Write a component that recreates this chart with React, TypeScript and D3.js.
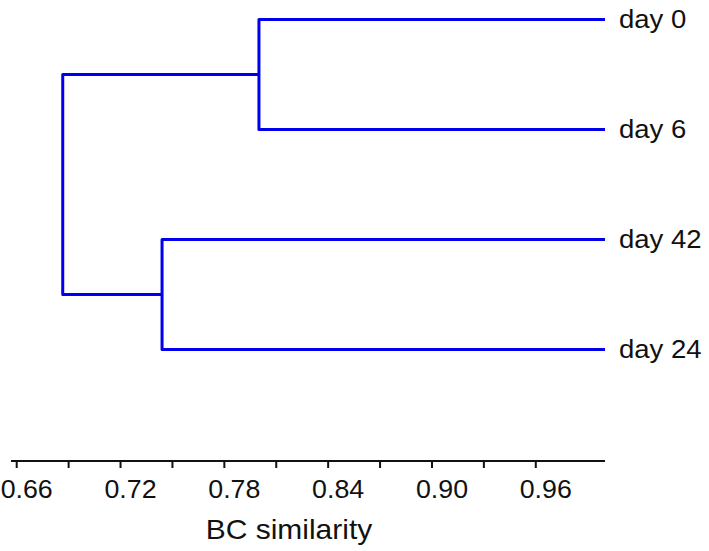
import React, { useEffect, useRef } from "react";
import * as d3 from "d3";

// leaves from top to bottom
const leafLabels = ["day 0", "day 6", "day 42", "day 24"];
// node ids: leaves 0..3, merges 4..6
const mergePairs = [[0, 1], [2, 3], [4, 5]];
const mergeSimilarity = [0.8, 0.744, 0.6866];
const leafSimilarity = 1.0;

const minorTicks = [0.66, 0.69, 0.72, 0.75, 0.78, 0.81, 0.84, 0.87, 0.9, 0.93, 0.96];
const majorTicks = [0.66, 0.72, 0.78, 0.84, 0.9, 0.96];

const App = () => {
  const svgRef = useRef<SVGSVGElement>(null);

  useEffect(() => {
    const width = 709;
    const height = 551;
    const font = "'Liberation Sans', Arial, sans-serif";
    const axisY = 461;

    const svg = d3.select(svgRef.current);
    svg.selectAll("*").remove();
    svg.attr("width", width).attr("height", height);

    const x = d3.scaleLinear().domain([0.6567, 1.0]).range([11, 605]);
    const y = d3.scalePoint().domain(leafLabels).range([19.5, 349.5]);

    // node positions
    const nodes = leafLabels.map((d) => ({ x: x(leafSimilarity), y: y(d) as number }));
    mergePairs.forEach(([a, b], i) => {
      nodes.push({ x: x(mergeSimilarity[i]), y: (nodes[a].y + nodes[b].y) / 2 });
    });

    // dendrogram links
    const g = svg.append("g");
    mergePairs.forEach(([a, b], i) => {
      const m = nodes[leafLabels.length + i];
      const p = d3.path();
      p.moveTo(nodes[a].x, nodes[a].y);
      p.lineTo(m.x, nodes[a].y);
      p.lineTo(m.x, nodes[b].y);
      p.lineTo(nodes[b].x, nodes[b].y);
      g.append("path")
        .attr("d", p.toString())
        .attr("fill", "none")
        .attr("stroke", "#0000ee")
        .attr("stroke-width", 3)
        .attr("stroke-linejoin", "round");
    });

    // leaf labels (slightly stretched wide, like the source image)
    svg.append("g")
      .selectAll("text")
      .data(leafLabels)
      .join("text")
      .attr("transform", (d) => `translate(${x(leafSimilarity) + 14},${(y(d) as number) + 8}) scale(1.1,1)`)
      .attr("font-family", font)
      .attr("font-size", 25)
      .attr("fill", "#111")
      .text((d) => d);

    // axis
    const axis = svg.append("g");
    axis.append("line")
      .attr("x1", 11)
      .attr("x2", 605)
      .attr("y1", axisY)
      .attr("y2", axisY)
      .attr("stroke", "#111")
      .attr("stroke-width", 2);

    axis.selectAll("line.tick")
      .data(minorTicks)
      .join("line")
      .attr("class", "tick")
      .attr("x1", (d) => x(d))
      .attr("x2", (d) => x(d))
      .attr("y1", axisY)
      .attr("y2", axisY + 7)
      .attr("stroke", "#111")
      .attr("stroke-width", 2);

    axis.selectAll("text.lbl")
      .data(majorTicks)
      .join("text")
      .attr("class", "lbl")
      .attr("transform", (d) => `translate(${x(d) + 10},498) scale(1.03,1)`)
      .attr("text-anchor", "middle")
      .attr("font-family", font)
      .attr("font-size", 26)
      .attr("fill", "#111")
      .text((d) => d3.format(".2f")(d));

    svg.append("text")
      .attr("transform", "translate(289,539) scale(1.11,1)")
      .attr("text-anchor", "middle")
      .attr("font-family", font)
      .attr("font-size", 27)
      .attr("fill", "#111")
      .text("BC similarity");
  }, []);

  return <svg ref={svgRef} style={{ position: "absolute", left: 0, top: 0 }}></svg>;
};

export default App;
